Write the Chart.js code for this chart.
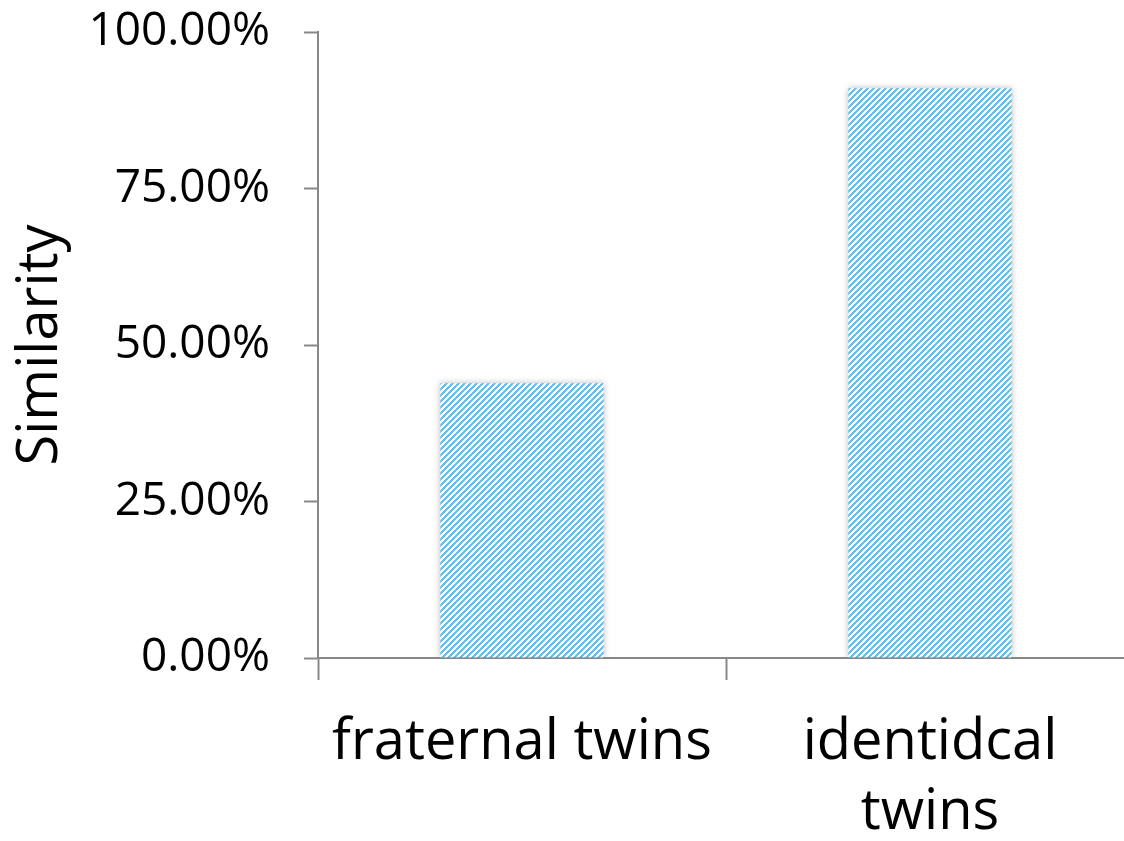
<!DOCTYPE html>
<html>
<head>
<meta charset="utf-8">
<script src="https://cdn.jsdelivr.net/npm/chart.js@4/dist/chart.umd.min.js"></script>
<style>
  html, body { margin: 0; padding: 0; overflow: hidden; background: #fff; }
  #wrap { width: 1134px; height: 841px; position: relative; }
</style>
</head>
<body>
<div id="wrap"><canvas id="c"></canvas></div>
<script>
// Twin similarity data
const categories = ['fraternal twins', ['identidcal', 'twins']];
const similarity = [43.9, 91.0];
const yTicks = [0, 25, 50, 75, 100];

const FONT = "'Open Sans', 'Noto Sans', sans-serif";
const AXIS_GREY = '#888888';

// Diagonal-stripe fill for the bars
function stripePattern(color) {
  const n = 6;
  const pc = document.createElement('canvas');
  pc.width = n; pc.height = n;
  const p = pc.getContext('2d');
  p.fillStyle = '#ffffff';
  p.fillRect(0, 0, n, n);
  p.fillStyle = color;
  for (let y = 0; y < n; y++) {
    for (let x = 0; x < n; x++) {
      if ((x + y) % n < 3) p.fillRect(x, y, 1, 1);
    }
  }
  return document.getElementById('c').getContext('2d').createPattern(pc, 'repeat');
}

// Soft outer shadow behind the bars
const barShadow = {
  id: 'barShadow',
  beforeDatasetsDraw(chart) {
    const ctx = chart.ctx;
    ctx.save();
    ctx.shadowColor = 'rgba(0,0,0,0.28)';
    ctx.shadowBlur = 6;
    ctx.shadowOffsetX = 0;
    ctx.shadowOffsetY = 0;
  },
  afterDatasetsDraw(chart) {
    chart.ctx.restore();
  }
};

new Chart(document.getElementById('c'), {
  type: 'bar',
  data: {
    labels: categories,
    datasets: [{
      data: similarity,
      backgroundColor: stripePattern('#5cc3f7'),
      borderWidth: 0,
      categoryPercentage: 1.0,
      barPercentage: 0.4
    }]
  },
  plugins: [barShadow],
  options: {
    responsive: true,
    maintainAspectRatio: false,
    animation: false,
    layout: { padding: { top: 32, left: 0, right: 0, bottom: 0 } },
    plugins: {
      legend: { display: false },
      tooltip: { enabled: false }
    },
    scales: {
      x: {
        offset: true,
        grid: {
          offset: true,
          drawOnChartArea: false,
          drawTicks: true,
          tickLength: 22,
          tickWidth: 2,
          tickColor: AXIS_GREY,
          color: AXIS_GREY
        },
        border: { display: true, color: AXIS_GREY, width: 2 },
        ticks: {
          color: '#000',
          font: { family: FONT, size: 56, lineHeight: 1.25 },
          padding: 28,
          maxRotation: 0,
          minRotation: 0,
          autoSkip: false
        },
        afterFit(scale) {
          scale.height = 183;
          scale.paddingLeft = 0;
          scale.paddingRight = 0;
        }
      },
      y: {
        min: 0,
        max: 100,
        afterBuildTicks(scale) { scale.ticks = yTicks.map(v => ({ value: v })); },
        grid: {
          drawOnChartArea: false,
          drawTicks: true,
          tickLength: 14,
          tickWidth: 2,
          tickColor: AXIS_GREY,
          color: AXIS_GREY
        },
        border: { display: true, color: AXIS_GREY, width: 2 },
        ticks: {
          color: '#000',
          font: { family: FONT, size: 46 },
          padding: 34,
          callback: v => v.toFixed(2) + '%'
        },
        title: {
          display: true,
          text: 'Similarity',
          color: '#000',
          font: { family: FONT, size: 56 },
          padding: { top: 7, bottom: 0 }
        },
        afterFit(scale) {
          scale.width = 318;
          scale.paddingTop = 0;
          scale.paddingBottom = 0;
        }
      }
    }
  }
});
</script>
</body>
</html>
